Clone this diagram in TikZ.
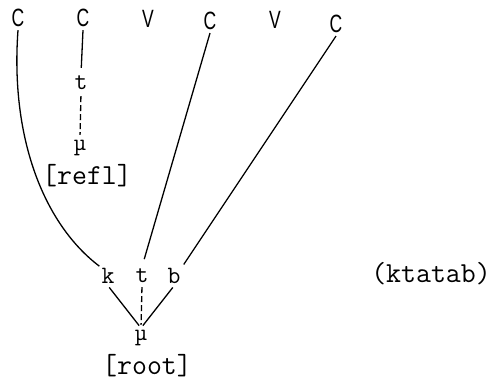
\documentclass[tikz,border=0pt]{standalone}
\usepackage{fontspec}
\newfontfamily\skelfont[FakeStretch=0.7]{Liberation Sans}
\begin{document}
\begin{tikzpicture}[x=1pt, y=-1pt,
    slot/.style={inner sep=3pt, font=\skelfont\fontsize{25}{25}\selectfont},
    seg/.style={inner sep=2pt, font=\ttfamily\fontsize{25}{25}\selectfont},
    mumark/.style={inner sep=2pt, font=\ttfamily\fontsize{24}{24}\selectfont},
    morph/.style={inner sep=2pt, font=\ttfamily\fontsize{29}{29}\selectfont},
    assoc/.style={line width=1.3pt},
    broken/.style={line width=1.3pt, dash pattern=on 6pt off 3pt}
]
\useasboundingbox (0,0) rectangle (494,386);

% skeleton
\node (C1) [slot] at (18,18) {C};
\node (C2) [slot] at (83,18) {C};
\node (V1) [slot] at (148,19) {V};
\node (C3) [slot] at (210,21) {C};
\node (V2) [slot] at (275,20) {V};
\node (C4) [slot] at (336,24) {C};

% reflexive tier
\node (Reflt) [seg] at (81,83) {t};
\node (Reflmu) [mumark] at (80,148) {µ};
\node (Refl) [morph] at (87,176) {[refl]};

% root tier
\node (Rootk) [seg] at (108,276) {k};
\node (Roott) [seg] at (142,276) {t};
\node (Rootb) [seg] at (174,276) {b};
\node (Rootmu) [mumark] at (141,338) {µ};
\node (Root) [morph] at (147,366) {[root]};

\node (Form) [morph] at (431,274) {(ktatab)};

\draw [assoc] (C1.south) .. controls (10,140) and (45,225) .. (Rootk.north west);
\draw [assoc, shorten >=6pt] (C2.south) -- (Reflt.north);
\draw [broken, shorten <=4pt, shorten >=3pt] (Reflt.south) -- (Reflmu.north);
\draw [assoc, shorten >=8pt] (C3.south) -- (Roott.north);
\draw [assoc, shorten >=2pt] (C4.south) -- (Rootb.north east);
\draw [assoc, shorten <=2pt, shorten >=3pt] (Rootk.south) -- (Rootmu.north);
\draw [broken, shorten <=2pt, shorten >=3pt] (Roott.south) -- (Rootmu.north);
\draw [assoc, shorten <=2pt, shorten >=3pt] (Rootb.south) -- (Rootmu.north);
\end{tikzpicture}
\end{document}
